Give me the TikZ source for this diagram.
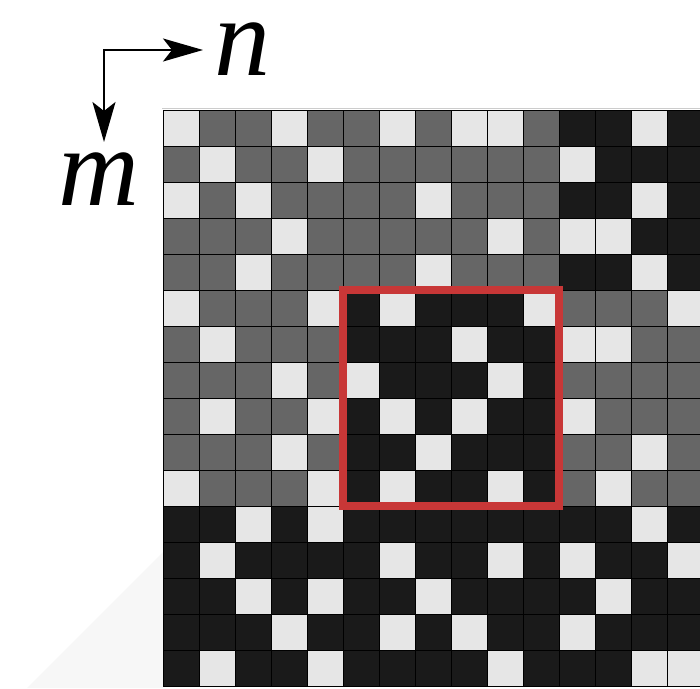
\documentclass[tikz,border=0pt]{standalone}
\usepackage{fontspec}
\setmainfont{Liberation Serif}
\usepackage{tikz}
\usetikzlibrary{arrows.meta,calc}
\definecolor{cellL}{HTML}{E6E6E6}
\definecolor{cellG}{HTML}{666666}
\definecolor{cellD}{HTML}{1A1A1A}
\definecolor{boxred}{HTML}{C83737}
\definecolor{bgshade}{HTML}{F7F7F7}

\begin{document}
\begin{tikzpicture}[x=1pt,y=-1pt,
  axis/.style={line width=2pt,{Stealth[length=40pt,width=23pt,inset=9pt]}-{Stealth[length=40pt,width=23pt,inset=9pt]}},
  axislabel/.style={inner sep=0pt,anchor=base west,text height=56pt,text depth=0pt,font=\fontsize{112}{112}\selectfont\itshape},
  cell/.style={draw=black,line width=1pt}]
\useasboundingbox (0,0) rectangle (700,688);
\fill[bgshade] (27,688) -- (163,552) -- (163,688) -- cycle;
\draw[black!20, line width=1pt] (162,108.5) -- (700,108.5);

\foreach \rowcells [count=\r from 0] in {
  {L,G,G,L,G,G,L,G,L,L,G,D,D,L,D},
  {G,L,G,G,L,G,G,G,G,G,G,L,D,D,D},
  {L,G,L,G,G,G,G,L,G,G,G,D,D,L,D},
  {G,G,G,L,G,G,G,G,G,L,G,L,L,D,D},
  {G,G,L,G,G,G,G,L,G,G,G,D,D,L,D},
  {L,G,G,G,L,D,L,D,D,D,L,G,G,G,L},
  {G,L,G,G,G,D,D,D,L,D,D,L,L,G,G},
  {G,G,G,L,G,L,D,D,D,L,D,G,G,G,G},
  {G,L,G,G,L,D,L,D,L,D,D,L,G,G,G},
  {G,G,G,L,G,D,D,L,D,D,D,G,G,L,G},
  {L,G,G,G,L,D,L,D,D,L,D,G,L,G,G},
  {D,D,L,D,L,D,D,D,D,D,D,D,D,L,D},
  {D,L,D,D,D,D,L,D,D,L,D,L,D,D,L},
  {D,D,L,D,L,D,D,L,D,D,D,D,L,D,D},
  {D,D,D,L,D,D,L,D,L,D,D,L,D,D,D},
  {D,L,D,D,L,D,D,D,D,L,D,D,D,L,L}}
  \foreach \c [count=\k from 0] in \rowcells {
    \pgfmathsetmacro\cx{163 + 36*\k}
    \pgfmathsetmacro\cy{110 + 36*\r}
    \filldraw[cell, fill=cell\c] (\cx,\cy) rectangle ++(36,36);
  }

\draw[line width=8pt, boxred] (343,290) rectangle (559,506);

\coordinate (corner) at (104,50);
\coordinate (ntip) at (203,50);
\coordinate (mtip) at (104,142);
\draw[axis] (mtip) -- (corner) -- (ntip);
\node[axislabel] (nlabel) at (214,75) {n};
\node[axislabel] (mlabel) at (58,205) {m};
\end{tikzpicture}
\end{document}
